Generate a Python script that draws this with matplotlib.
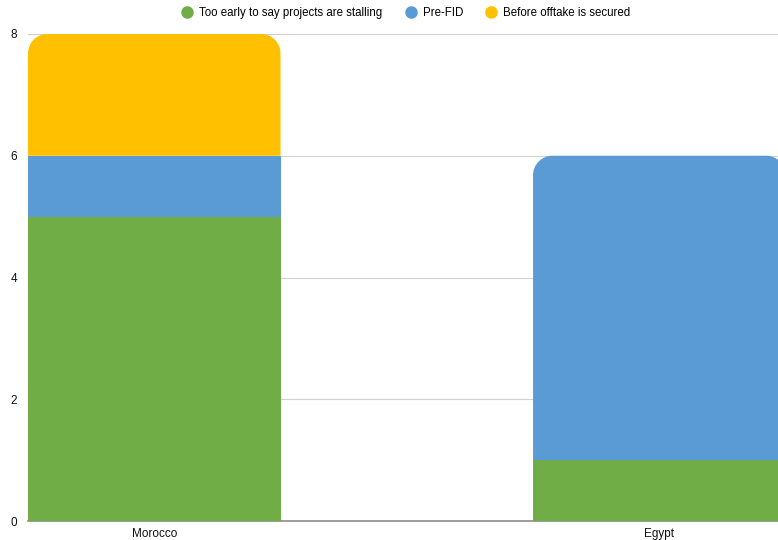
import numpy as np
import matplotlib.pyplot as plt
from matplotlib.path import Path
from matplotlib.patches import PathPatch
from matplotlib.lines import Line2D

plt.rcParams['font.family'] = ['Liberation Sans', 'DejaVu Sans']

countries = ["Morocco", "Egypt"]
series_names = ["Too early to say projects are stalling", "Pre-FID", "Before offtake is secured"]
too_early = [5, 1]
pre_fid = [1, 5]
before_offtake = [2, 0]
colors = ['#70AD47', '#5B9BD5', '#FFC000']


def rounded_top(ax, x, bottom, height, width, color, rx=0.038, ry=0.32):
    # rectangle with rounded top corners, data units
    l, r = x - width / 2, x + width / 2
    t = bottom + height
    k = 0.55
    verts = [
        (l, bottom), (l, t - ry),
        (l, t - ry + k * ry), (l + rx - k * rx, t), (l + rx, t),
        (r - rx, t),
        (r - rx + k * rx, t), (r, t - ry + k * ry), (r, t - ry),
        (r, bottom), (l, bottom),
    ]
    codes = [Path.MOVETO, Path.LINETO,
             Path.CURVE4, Path.CURVE4, Path.CURVE4,
             Path.LINETO,
             Path.CURVE4, Path.CURVE4, Path.CURVE4,
             Path.LINETO, Path.CLOSEPOLY]
    ax.add_patch(PathPatch(Path(verts, codes), facecolor=color, edgecolor='none', zorder=3))


fig = plt.figure(figsize=(7.78, 5.4), dpi=100)
ax = fig.add_axes([28 / 778, 1 - 521 / 540, 750 / 778, 487 / 540])

x = np.arange(len(countries))
width = 0.5
stack = [too_early, pre_fid, before_offtake]

for i in range(len(countries)):
    bottom = 0
    vals = [s[i] for s in stack]
    top_idx = max(j for j, v in enumerate(vals) if v > 0)
    for j, v in enumerate(vals):
        if v == 0:
            continue
        if j == top_idx:
            rounded_top(ax, x[i], bottom, v, width, colors[j])
        else:
            ax.bar(x[i], v, width, bottom=bottom, color=colors[j], zorder=3)
        bottom += v

ax.set_xlim(-0.25, 1.235)
ax.set_ylim(0, 8)
ax.set_yticks([0, 2, 4, 6, 8])
ax.set_xticks(x)
ax.set_xticklabels(countries)
ax.yaxis.grid(True, color='#d0d0d0', lw=0.8, zorder=0)
ax.axhline(0, color='#8c8c8c', lw=1.2, zorder=2, clip_on=False)
for sp in ax.spines.values():
    sp.set_visible(False)
ax.tick_params(length=0, labelsize=8.5, colors='#111111')
ax.tick_params(axis='y', pad=8)
ax.tick_params(axis='x', pad=5)

handles = [Line2D([], [], marker='o', ls='none', color=c, markersize=8) for c in colors]
fig.legend(handles, series_names, loc='upper center', bbox_to_anchor=(0.518, 1.007),
           ncol=3, frameon=False, fontsize=8.3, handletextpad=0.05, columnspacing=1.45)

fig.savefig("out.png", dpi=100)
